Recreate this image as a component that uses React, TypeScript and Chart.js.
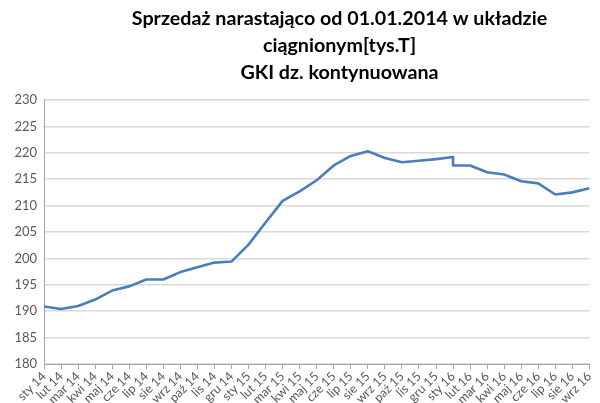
import React, { useEffect, useRef } from "react";
import { Chart, registerables } from "chart.js";

Chart.register(...registerables);

const categories = [
  "sty 14", "lut 14", "mar 14", "kwi 14", "maj 14", "cze 14", "lip 14", "sie 14", "wrz 14", "paź 14", "lis 14", "gru 14",
  "sty 15", "lut 15", "mar 15", "kwi 15", "maj 15", "cze 15", "lip 15", "sie 15", "wrz 15", "paź 15", "lis 15", "gru 15",
  "sty 16", "lut 16", "mar 16", "kwi 16", "maj 16", "cze 16", "lip 16", "sie 16", "wrz 16",
];

// sty 14 .. sty 16 (before correction)
const salesBefore: number[] = [
  190.9, 190.4, 191.0, 192.2, 193.9, 194.7, 196.0, 196.0, 197.4, 198.3, 199.2, 199.4,
  202.6, 206.8, 210.9, 212.7, 214.8, 217.6, 219.4, 220.3, 219.0, 218.2, 218.5, 218.8,
  219.2,
];

// sty 16 .. wrz 16 (after correction)
const salesAfter: number[] = [
  217.6, 217.6, 216.3, 215.9, 214.6, 214.2, 212.1, 212.5, 213.3,
];
const afterStartIndex = 24;

const yMin = 180;
const yMax = 230;
const yStep = 5;

const titleLines = [
  "Sprzedaż narastająco od 01.01.2014 w układzie",
  "ciągnionym[tys.T]",
  "GKI dz. kontynuowana",
];

const lineColor = "#4a7ebb";
const textColor = "#595959";
const gridColor = "#d9d9d9";

const shiftTitle = {
  id: "shiftTitle",
  afterLayout(chart: any) {
    const t = chart.titleBlock;
    if (t) {
      t.left += 86;
    }
  },
};

export default function App() {
  const ref = useRef<HTMLCanvasElement | null>(null);

  useEffect(() => {
    if (!ref.current) return;
    const points = [
      ...salesBefore.map((v, i) => ({ x: categories[i], y: v })),
      ...salesAfter.map((v, i) => ({ x: categories[afterStartIndex + i], y: v })),
    ];
    const chart = new Chart(ref.current, {
      type: "line",
      data: {
        labels: categories,
        datasets: [
          {
            data: points as any,
            borderColor: lineColor,
            borderWidth: 2.6,
            pointRadius: 0,
            tension: 0,
            borderJoinStyle: "round",
          },
        ],
      },
      options: {
        animation: false,
        responsive: false,
        maintainAspectRatio: false,
        layout: { padding: { left: 0, right: 7, top: 0, bottom: 0 } },
        plugins: {
          legend: { display: false },
          tooltip: { enabled: false },
          title: {
            display: true,
            text: titleLines,
            color: "#000000",
            font: { family: "Lato", size: 19.7, weight: "bold", lineHeight: 1.37 },
            padding: { top: 5, bottom: 14 },
          },
        },
        scales: {
          x: {
            offset: false,
            grid: {
              display: true,
              drawOnChartArea: false,
              drawTicks: true,
              tickLength: 5,
              color: "#a6a6a6",
            },
            border: { display: true, color: "#a6a6a6", width: 1 },
            ticks: {
              color: textColor,
              font: { family: "Lato", size: 12.5 },
              maxRotation: 45,
              minRotation: 45,
              autoSkip: false,
              padding: 0,
            },
            afterFit(scale: any) {
              scale.height = 39;
            },
          },
          y: {
            min: yMin,
            max: yMax,
            ticks: {
              stepSize: yStep,
              color: textColor,
              font: { family: "Lato", size: 13 },
              padding: 7,
            },
            grid: {
              color: gridColor,
              lineWidth: 1.5,
              drawTicks: false,
            },
            border: { display: true, color: "#a6a6a6", width: 1 },
            afterFit(scale: any) {
              scale.width = 44;
            },
          },
        },
      },
      plugins: [shiftTitle],
    });
    return () => chart.destroy();
  }, []);

  return (
    <div style={{ position: "absolute", left: 0, top: 0, width: 600, height: 403, background: "#ffffff" }}>
      <canvas ref={ref} width={600} height={403} />
    </div>
  );
}
